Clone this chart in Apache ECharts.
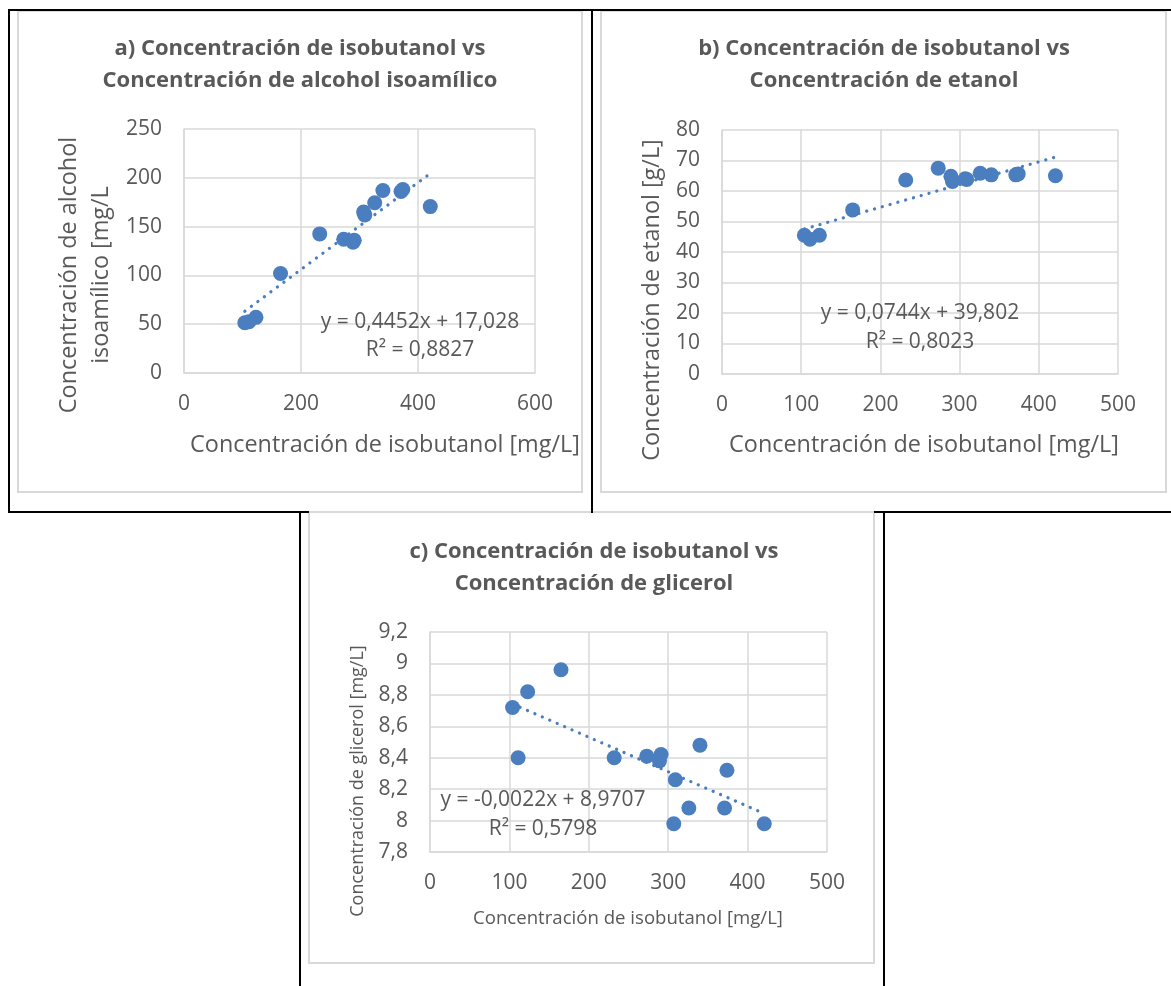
<!DOCTYPE html>
<html>
<head>
<meta charset="utf-8">
<title>Concentración de isobutanol</title>
<script src="https://cdn.jsdelivr.net/npm/echarts@6/dist/echarts.min.js"></script>
<style>
  html, body { margin: 0; padding: 0; background: #ffffff; }
  #chart { width: 1171px; height: 986px; }
</style>
</head>
<body>
<div id="chart"></div>
<script>
// Muestras: concentración de isobutanol [mg/L] (eje X común a los tres gráficos)
const isobutanol = [104, 111, 123, 165, 232, 273, 289, 291, 307, 309, 326, 340, 371, 374, 421];
// a) alcohol isoamílico [mg/L]
const alcoholIsoamilico = [51.5, 52.5, 57, 102, 142.5, 137, 134, 136, 165, 162, 174.5, 187, 186, 188, 170.5];
// b) etanol [g/L]
const etanol = [45.5, 44.2, 45.5, 53.8, 63.6, 67.5, 64.8, 63.1, 64.0, 63.8, 65.8, 65.3, 65.3, 65.6, 65.0];
// c) glicerol [mg/L]
const glicerol = [8.72, 8.40, 8.82, 8.96, 8.40, 8.41, 8.38, 8.42, 7.98, 8.26, 8.08, 8.48, 8.08, 8.32, 7.98];

// Líneas de tendencia lineales (pendiente, ordenada) y sus etiquetas
const trendSlopes = [0.4452, 0.0744, -0.0022];
const trendIntercepts = [17.028, 39.802, 8.9707];
const trendEquations = ['y = 0,4452x + 17,028', 'y = 0,0744x + 39,802', 'y = -0,0022x + 8,9707'];
const trendR2 = ['R² = 0,8827', 'R² = 0,8023', 'R² = 0,5798'];

// Escalas de los ejes: [mín, máx, intervalo]
const xRanges = [[0, 600, 200], [0, 500, 100], [0, 500, 100]];
const yRanges = [[0, 250, 50], [0, 80, 10], [7.8, 9.2, 0.2]];

const chartTitles = [
  'a) Concentración de isobutanol vs\nConcentración de alcohol isoamílico',
  'b) Concentración de isobutanol vs\nConcentración de etanol',
  'c) Concentración de isobutanol vs\nConcentración de glicerol'
];
const xTitles = ['Concentración de isobutanol [mg/L]', 'Concentración de isobutanol [mg/L]', 'Concentración de isobutanol [mg/L]'];
const yTitles = ['Concentración de alcohol\nisoamílico [mg/L', 'Concentración de etanol [g/L]', 'Concentración de glicerol [mg/L]'];

const FONT = "'Open Sans', 'Noto Sans', sans-serif";
const TEXT = '#595959';
const GRID = '#d9d9d9';
const BLUE = '#4a7ebf';

const ySeries = [alcoholIsoamilico, etanol, glicerol];

const grids = [
  { left: 184, top: 129, width: 351, height: 244 },
  { left: 722, top: 130, width: 396, height: 244 },
  { left: 430, top: 632, width: 397, height: 220 }
];

function fmt(v) {
  return String(Math.round(v * 10) / 10).replace('.', ',');
}

const xAxes = xRanges.map((r, i) => ({
  type: 'value', gridIndex: i, min: r[0], max: r[1], interval: r[2],
  axisLine: { show: true, lineStyle: { color: GRID, width: 1.5 } },
  axisTick: { show: false },
  splitLine: { show: true, lineStyle: { color: GRID, width: 1.5 } },
  axisLabel: { color: TEXT, fontSize: 21, fontFamily: FONT, margin: 21, formatter: fmt }
}));
const yAxes = yRanges.map((r, i) => ({
  type: 'value', gridIndex: i, min: r[0], max: r[1], interval: r[2],
  axisLine: { show: true, lineStyle: { color: GRID, width: 1.5 } },
  axisTick: { show: false },
  splitLine: { show: true, lineStyle: { color: GRID, width: 1.5 } },
  axisLabel: { color: TEXT, fontSize: 21, fontFamily: FONT, margin: 22, formatter: fmt }
}));

const series = [];
ySeries.forEach((ys, i) => {
  series.push({
    type: 'scatter', xAxisIndex: i, yAxisIndex: i,
    data: isobutanol.map((x, k) => [x, ys[k]]),
    symbol: 'circle', symbolSize: 15,
    itemStyle: { color: BLUE, opacity: 1 },
    z: 3
  });
  const x0 = Math.min(...isobutanol), x1 = Math.max(...isobutanol);
  series.push({
    type: 'line', xAxisIndex: i, yAxisIndex: i,
    data: [[x0, trendSlopes[i] * x0 + trendIntercepts[i]], [x1, trendSlopes[i] * x1 + trendIntercepts[i]]],
    showSymbol: false, silent: true,
    lineStyle: { color: BLUE, width: 3.2, type: [0.1, 8], cap: 'round' },
    z: 4
  });
});

// Marcos: bordes negros de la tabla y bordes grises de cada gráfico
const black = { stroke: '#000000', lineWidth: 2 };
function hline(x1, x2, y, style) { return { type: 'line', shape: { x1, y1: y, x2, y2: y }, style, z: 10 }; }
function vline(x, y1, y2, style) { return { type: 'line', shape: { x1: x, y1, x2: x, y2 }, style, z: 10 }; }

const frames = [
  hline(8, 1171, 10, black),
  vline(9, 9, 513, black),
  vline(592, 9, 513, black),
  hline(8, 309, 512, black),
  hline(874, 1171, 512, black),
  vline(300, 511, 986, black),
  vline(884, 511, 986, black),
  { type: 'rect', shape: { x: 18, y: 11, width: 564, height: 481 }, style: { fill: 'none', stroke: GRID, lineWidth: 2 }, z: 9 },
  { type: 'rect', shape: { x: 601, y: 11, width: 565, height: 481 }, style: { fill: 'none', stroke: GRID, lineWidth: 2 }, z: 9 },
  { type: 'rect', shape: { x: 309, y: 512, width: 565, height: 451 }, style: { fill: 'none', stroke: GRID, lineWidth: 2 }, z: 9 }
];

function text(str, x, y, size, opts) {
  return Object.assign({
    type: 'text', x, y, z: 20,
    style: Object.assign({
      text: str, fill: TEXT, fontFamily: FONT, fontSize: size,
      align: 'center', verticalAlign: 'middle'
    }, (opts && opts.style) || {})
  }, (opts && opts.el) || {});
}

const titlePos = [[300, 65], [884, 65], [594, 568]];
const xTitlePos = [[385, 445, 23.4], [924, 445, 23.4], [628, 919, 18.6]];
const yTitlePos = [[85, 275, 23.4], [652, 300, 23.4], [358, 781, 18]];
const eqPos = [[420, 322, 350], [920, 313, 342], [543, 800, 829]];

const labels = [];
for (let i = 0; i < 3; i++) {
  labels.push(text(chartTitles[i], titlePos[i][0], titlePos[i][1], 22, { style: { fontWeight: 'bold', lineHeight: 32 } }));
  labels.push(text(xTitles[i], xTitlePos[i][0], xTitlePos[i][1], xTitlePos[i][2]));
  labels.push(text(yTitles[i], yTitlePos[i][0], yTitlePos[i][1], yTitlePos[i][2], { style: { lineHeight: 32 }, el: { rotation: Math.PI / 2 } }));
  labels.push(text(trendEquations[i], eqPos[i][0], eqPos[i][1], 21));
  labels.push(text(trendR2[i], eqPos[i][0], eqPos[i][2], 21));
}

const chart = echarts.init(document.getElementById('chart'), null, { renderer: 'canvas' });
chart.setOption({
  backgroundColor: '#ffffff',
  animation: false,
  grid: grids,
  xAxis: xAxes,
  yAxis: yAxes,
  series: series,
  graphic: { elements: frames.concat(labels) }
});
</script>
</body>
</html>
